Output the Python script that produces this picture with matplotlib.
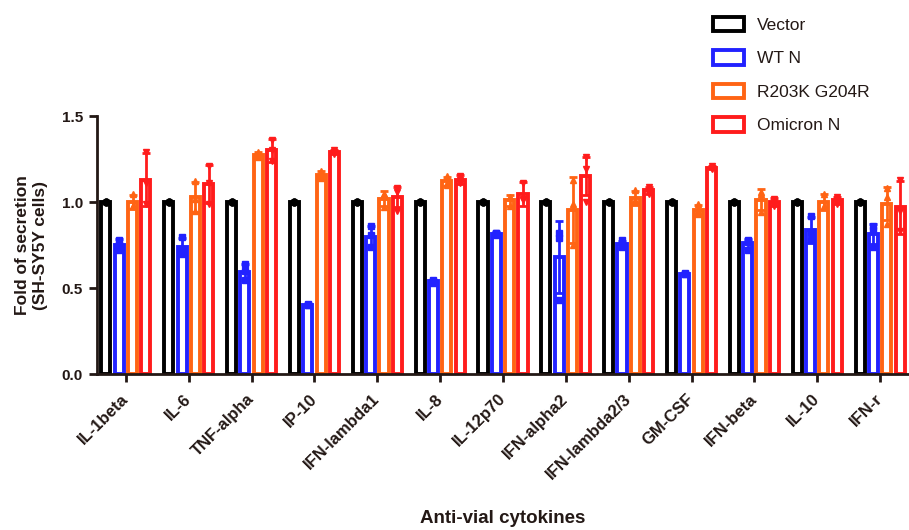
import matplotlib

matplotlib.use("Agg")
import matplotlib.pyplot as plt
import numpy as np
from matplotlib.patches import Patch

plt.rcParams["font.family"] = ["Liberation Sans", "DejaVu Sans"]

cytokines = ["IL-1beta", "IL-6", "TNF-alpha", "IP-10", "IFN-lambda1", "IL-8", "IL-12p70",
             "IFN-alpha2", "IFN-lambda2/3", "GM-CSF", "IFN-beta", "IL-10", "IFN-r"]
groups = ["Vector", "WT N", "R203K G204R", "Omicron N"]

vector_mean = [1.0, 1.0, 1.0, 1.0, 1.0, 1.0, 1.0, 1.0, 1.0, 1.0, 1.0, 1.0, 1.0]
vector_sd = [0.0, 0.0, 0.0, 0.0, 0.0, 0.0, 0.0, 0.0, 0.0, 0.0, 0.0, 0.0, 0.0]
wt_mean = [0.75, 0.74, 0.595, 0.40, 0.80, 0.54, 0.815, 0.68, 0.755, 0.585, 0.76, 0.84, 0.815]
wt_sd = [0.035, 0.05, 0.045, 0.005, 0.06, 0.01, 0.01, 0.21, 0.02, 0.005, 0.025, 0.075, 0.06]
r203k_mean = [1.0, 1.03, 1.275, 1.16, 1.02, 1.12, 1.01, 0.955, 1.025, 0.955, 1.015, 1.0, 0.99]
r203k_sd = [0.04, 0.085, 0.015, 0.02, 0.045, 0.025, 0.03, 0.19, 0.04, 0.03, 0.06, 0.045, 0.095]
omicron_mean = [1.13, 1.105, 1.30, 1.29, 1.03, 1.13, 1.045, 1.15, 1.07, 1.20, 1.0, 1.01, 0.97]
omicron_sd = [0.155, 0.11, 0.065, 0.01, 0.06, 0.025, 0.07, 0.11, 0.02, 0.01, 0.025, 0.02, 0.155]

# individual replicates (3 per bar)
vector_pts = [[1.0, 1.0, 1.0]] * 13
wt_pts = [[0.78, 0.75, 0.72], [0.80, 0.72, 0.70], [0.64, 0.60, 0.55], [0.40, 0.40, 0.41],
          [0.86, 0.81, 0.74], [0.55, 0.54, 0.53], [0.82, 0.81, 0.82], [0.82, 0.79, 0.43],
          [0.78, 0.75, 0.74], [0.59, 0.58, 0.58], [0.78, 0.77, 0.72], [0.92, 0.82, 0.78],
          [0.86, 0.84, 0.74]]
r203k_pts = [[1.05, 0.98, 0.98], [1.12, 1.02, 0.95], [1.29, 1.27, 1.26], [1.18, 1.16, 1.14],
             [1.05, 1.05, 0.97], [1.15, 1.11, 1.10], [1.03, 1.03, 0.98], [1.13, 0.99, 0.75],
             [1.07, 1.01, 1.00], [0.99, 0.95, 0.93], [1.06, 1.05, 0.94], [1.05, 0.98, 0.97],
             [1.08, 1.03, 0.87]]
omicron_pts = [[1.29, 1.11, 0.99], [1.21, 1.11, 0.99], [1.36, 1.30, 1.24], [1.30, 1.29, 1.28],
               [1.08, 1.06, 0.95], [1.15, 1.13, 1.11], [1.11, 1.02, 1.01], [1.26, 1.19, 1.00],
               [1.09, 1.07, 1.05], [1.21, 1.20, 1.19], [1.02, 1.00, 0.98], [1.03, 1.02, 0.99],
               [1.13, 0.95, 0.83]]

means = [vector_mean, wt_mean, r203k_mean, omicron_mean]
sds = [vector_sd, wt_sd, r203k_sd, omicron_sd]
points = [vector_pts, wt_pts, r203k_pts, omicron_pts]
colors = ["#000000", "#2222FF", "#FF6414", "#FF1C1C"]
markers = ["o", "s", "^", "v"]

dark = "#231815"
fig = plt.figure(figsize=(9.09, 5.30), dpi=100)
ax = fig.add_axes([0.1067, 0.294, 0.8933, 0.487])

x = np.arange(len(cytokines))
step = 0.212
width = 0.145
for i, (m, s, pts, c, mk) in enumerate(zip(means, sds, points, colors, markers)):
    xi = x + (i - 1.5) * step
    ax.bar(xi, m, width=width, facecolor="white", edgecolor=c, linewidth=2.8, zorder=2)
    ax.errorbar(xi, m, yerr=s, fmt="none", ecolor=c, elinewidth=2.0, capsize=3,
                capthick=2.0, zorder=3)
    for xx, p in zip(xi, pts):
        ax.plot([xx] * len(p), p, linestyle="none", marker=mk, color=c, markersize=4.8,
                zorder=4)

ax.set_xlim(-0.46, len(cytokines) - 1 + 0.46)
ax.set_ylim(0, 1.5)
ax.set_yticks([0.0, 0.5, 1.0, 1.5])
ax.set_yticklabels(["0.0", "0.5", "1.0", "1.5"], fontsize=11, fontweight="bold", color=dark)
ax.set_xticks(x)
ax.set_xticklabels(cytokines, rotation=45, ha="right", va="center", rotation_mode="anchor",
                   fontsize=12, fontweight="bold", color=dark)
ax.tick_params(axis="both", length=6, width=2, color=dark, direction="out", pad=4)
ax.tick_params(axis="x", pad=10)
for side in ["top", "right"]:
    ax.spines[side].set_visible(False)
for side in ["left", "bottom"]:
    ax.spines[side].set_linewidth(2)
    ax.spines[side].set_color(dark)

ax.set_ylabel("Fold of secretion\n(SH-SY5Y cells)", fontsize=12.5, fontweight="bold",
              linespacing=1.25, labelpad=10, color=dark)
fig.text(0.553, 0.005, "Anti-vial cytokines", ha="center", va="bottom", fontsize=13.5,
         fontweight="bold", color=dark)

handles = [Patch(facecolor="white", edgecolor=c, linewidth=2.8) for c in colors]
fig.legend(handles, groups, loc="upper left", bbox_to_anchor=(0.775, 0.985), frameon=False,
           fontsize=12.5, borderpad=0, handlelength=1.75, handleheight=0.9, handletextpad=0.75,
           labelspacing=1.0, labelcolor=dark)

fig.savefig("out.png", dpi=100)
